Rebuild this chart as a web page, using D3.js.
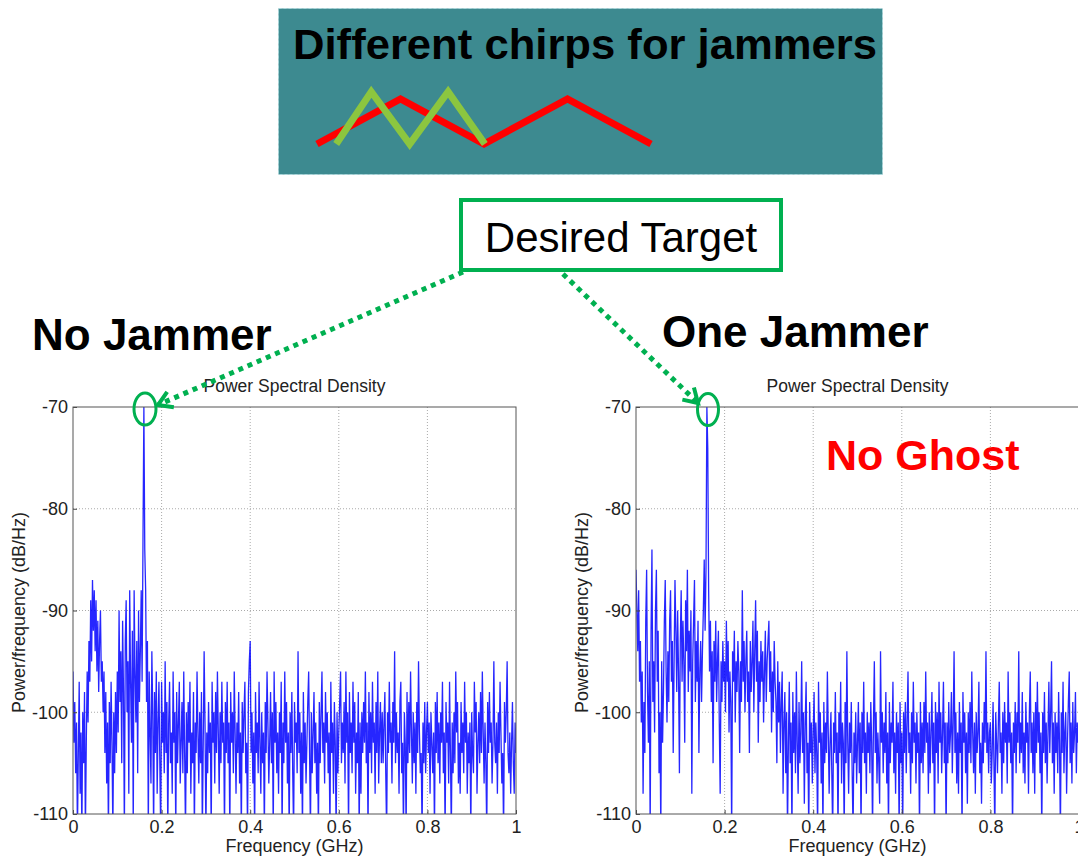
<!DOCTYPE html>
<html>
<head>
<meta charset="utf-8">
<script src="https://cdn.jsdelivr.net/npm/d3@7"></script>
<style>
  body { margin: 0; background: #fff; }
  svg { display: block; font-family: "Liberation Sans", Arial, sans-serif; }
</style>
</head>
<body>
<div id="chart"></div>
<script>
// Canvas
const width = 1078;
const height = 859;

// Axis ticks
const xTicks = [0, 0.2, 0.4, 0.6, 0.8, 1];
const xTickLabels = ["0", "0.2", "0.4", "0.6", "0.8", "1"];
const yTicks = [-110, -100, -90, -80, -70];
const yTickLabels = ["-110", "-100", "-90", "-80", "-70"];

// Frequency spacing of the PSD samples (GHz)
const STEP = 0.002;

// PSD, no jammer (dB/Hz), one value every 0.002 GHz from 0 to 1 (25 per row = 0.05 GHz)
const psdNoJammer = [
  -96, -103, -99, -106, -101, -112, -104, -97, -108, -102, -112, -100, -105, -98, -112, -103, -96, -101, -93, -97, -89, -95, -87, -92, -88,
  -94, -89, -96, -91, -98, -93, -90, -97, -95, -100, -96, -104, -98, -107, -101, -112, -99, -105, -97, -103, -112, -100, -106, -98, -104,
  -96, -102, -90, -99, -94, -105, -91, -98, -112, -93, -89, -100, -95, -108, -88, -97, -103, -92, -112, -88, -96, -101, -93, -106, -90,
  -99, -94, -88, -97, -83, -70, -84, -88, -99, -93, -112, -96, -102, -107, -94, -100, -112, -98, -104, -96, -108, -101, -97, -105, -112,
  -97, -103, -100, -106, -95, -104, -99, -112, -101, -97, -105, -102, -108, -96, -103, -100, -112, -98, -105, -101, -97, -107, -103, -99, -106,
  -96, -104, -112, -100, -106, -99, -103, -97, -108, -102, -105, -98, -112, -101, -104, -96, -102, -107, -100, -105, -98, -112, -103, -94, -101,
  -112, -102, -106, -99, -104, -101, -112, -97, -103, -100, -107, -98, -104, -96, -102, -108, -100, -105, -97, -103, -101, -112, -99, -104, -97,
  -105, -101, -112, -98, -103, -100, -106, -96, -102, -108, -101, -104, -98, -107, -102, -112, -99, -104, -100, -97, -106, -103, -112, -98, -95,
  -93, -104, -100, -107, -102, -112, -98, -104, -101, -106, -97, -103, -108, -100, -105, -102, -112, -99, -104, -96, -101, -107, -103, -98, -105,
  -100, -112, -96, -103, -99, -106, -102, -108, -100, -104, -97, -112, -101, -105, -96, -103, -99, -107, -102, -112, -100, -104, -98, -106, -112,
  -99, -103, -101, -106, -94, -104, -100, -108, -102, -112, -98, -105, -101, -107, -103, -99, -96, -104, -112, -100, -106, -102, -98, -105, -101,
  -108, -103, -112, -99, -105, -100, -96, -104, -101, -107, -98, -103, -100, -106, -102, -112, -97, -104, -101, -108, -99, -103, -112, -100, -106,
  -102, -99, -96, -105, -101, -104, -99, -107, -96, -103, -100, -112, -98, -104, -101, -106, -97, -103, -99, -108, -102, -105, -98, -112, -101,
  -108, -100, -104, -99, -103, -96, -105, -101, -112, -98, -104, -100, -106, -97, -103, -101, -108, -99, -104, -96, -107, -102, -99, -105, -100,
  -105, -101, -98, -106, -112, -100, -104, -97, -103, -101, -107, -99, -103, -94, -105, -100, -104, -102, -108, -99, -97, -106, -103, -112, -100,
  -103, -112, -98, -105, -99, -104, -96, -102, -107, -100, -105, -101, -108, -99, -104, -95, -102, -106, -104, -112, -101, -105, -99, -106, -102,
  -99, -104, -101, -108, -100, -103, -106, -102, -112, -99, -104, -98, -105, -101, -107, -100, -103, -97, -106, -102, -112, -99, -103, -101, -107,
  -97, -104, -112, -101, -106, -100, -105, -96, -102, -99, -107, -103, -108, -99, -104, -101, -106, -97, -103, -100, -108, -102, -105, -101, -112,
  -100, -104, -106, -97, -102, -99, -108, -103, -100, -105, -98, -104, -96, -102, -107, -101, -105, -112, -99, -104, -98, -103, -101, -107, -103,
  -95, -103, -105, -101, -108, -100, -104, -97, -102, -107, -104, -112, -99, -103, -100, -95, -104, -106, -102, -108, -103, -99, -105, -108, -101,
  -104
];

// PSD, one jammer (dB/Hz), same frequency grid
const psdOneJammer = [
  -86, -90, -94, -88, -97, -93, -101, -96, -108, -99, -104, -91, -86, -98, -103, -95, -112, -92, -84, -99, -95, -102, -90, -86, -97,
  -92, -106, -100, -112, -95, -103, -98, -91, -87, -96, -101, -94, -99, -91, -88, -97, -93, -104, -95, -87, -92, -98, -90, -96, -106,
  -93, -88, -97, -91, -95, -103, -89, -94, -86, -98, -92, -96, -90, -108, -95, -91, -87, -99, -93, -97, -91, -104, -96, -93, -99,
  -94, -90, -85, -92, -86, -70, -74, -88, -96, -91, -99, -94, -105, -93, -97, -91, -99, -95, -92, -101, -108, -95, -99, -93, -97,
  -95, -100, -91, -97, -93, -102, -96, -99, -112, -94, -97, -92, -101, -95, -98, -93, -96, -104, -95, -99, -88, -97, -93, -100, -95,
  -92, -99, -96, -104, -93, -98, -95, -91, -100, -94, -89, -97, -92, -103, -95, -99, -93, -97, -94, -101, -96, -92, -99, -95, -93,
  -91, -98, -94, -102, -96, -100, -93, -97, -99, -105, -95, -101, -97, -104, -99, -96, -108, -101, -98, -106, -100, -112, -103, -97, -105,
  -101, -112, -98, -104, -100, -106, -96, -103, -108, -99, -105, -102, -95, -104, -100, -109, -101, -97, -106, -103, -112, -99, -104, -101, -107,
  -102, -98, -106, -101, -104, -112, -97, -103, -100, -107, -102, -112, -99, -105, -101, -104, -96, -102, -108, -103, -100, -106, -112, -101, -104,
  -98, -105, -102, -112, -100, -104, -97, -107, -101, -103, -112, -99, -105, -94, -103, -108, -101, -104, -99, -106, -112, -102, -105, -100, -107,
  -103, -99, -106, -101, -112, -100, -104, -97, -105, -102, -108, -100, -104, -101, -106, -99, -103, -112, -101, -95, -104, -100, -107, -102, -105,
  -109, -94, -103, -100, -106, -101, -104, -98, -107, -102, -112, -99, -105, -101, -103, -97, -106, -102, -108, -100, -104, -101, -112, -99, -105,
  -102, -112, -100, -104, -99, -106, -101, -96, -104, -102, -108, -100, -105, -97, -103, -101, -107, -100, -104, -102, -112, -99, -105, -101, -106,
  -99, -104, -96, -103, -101, -108, -100, -106, -102, -98, -105, -101, -112, -99, -104, -100, -107, -97, -103, -100, -106, -102, -97, -105, -101,
  -112, -101, -105, -99, -104, -102, -98, -106, -101, -94, -104, -100, -107, -102, -108, -99, -104, -101, -112, -98, -103, -100, -106, -102, -109,
  -100, -104, -99, -105, -96, -102, -106, -101, -108, -100, -104, -102, -97, -106, -103, -109, -101, -105, -99, -103, -94, -104, -101, -106, -102,
  -101, -107, -104, -99, -105, -112, -100, -103, -106, -101, -97, -104, -102, -108, -100, -105, -99, -103, -101, -107, -96, -103, -100, -105, -102,
  -112, -101, -104, -99, -106, -100, -103, -94, -105, -101, -104, -98, -106, -102, -107, -99, -103, -101, -108, -100, -96, -104, -101, -106, -100,
  -108, -99, -104, -97, -103, -100, -106, -102, -112, -100, -104, -98, -105, -101, -107, -102, -97, -104, -100, -95, -105, -101, -108, -100, -104,
  -101, -106, -98, -103, -112, -100, -104, -97, -106, -102, -100, -108, -103, -99, -96, -105, -101, -107, -99, -104, -102, -98, -106, -101, -103,
  -100
];

// Chirp sketch: time steps and normalised frequency
const redChirpT = [0, 1, 2, 3, 4];
const redChirpF = [0, 1, 0, 1, 0];
const greenChirpT = [0.23, 0.65, 1.11, 1.57, 2.01];
const greenChirpF = [0, 1.16, 0, 1.16, 0];

// Colours
const GREEN = "#00b050";
const TEAL = "#3d8a90";

const svg = d3.select("#chart").append("svg")
    .attr("width", width)
    .attr("height", height);

// ---- Top banner ----
svg.append("rect")
    .attr("x", 278.5).attr("y", 8.5)
    .attr("width", 604).attr("height", 166)
    .attr("fill", TEAL)
    .attr("stroke", "#a9d6da")
    .attr("stroke-dasharray", "3,2");

svg.append("text")
    .attr("x", 293).attr("y", 59)
    .attr("font-size", 42).attr("font-weight", "bold")
    .attr("textLength", 584).attr("lengthAdjust", "spacingAndGlyphs")
    .attr("fill", "#000")
    .text("Different chirps for jammers");

const chirpX = d3.scaleLinear().domain([0, 4]).range([317, 651]);
const chirpY = d3.scaleLinear().domain([0, 1]).range([144, 99]);
const chirpLine = d3.line().x(d => chirpX(d[0])).y(d => chirpY(d[1]));

svg.append("path")
    .attr("d", chirpLine(d3.zip(redChirpT, redChirpF)))
    .attr("fill", "none").attr("stroke", "#ff0000").attr("stroke-width", 7);
svg.append("path")
    .attr("d", chirpLine(d3.zip(greenChirpT, greenChirpF)))
    .attr("fill", "none").attr("stroke", "#8cc63f").attr("stroke-width", 7);

// ---- Desired target label ----
svg.append("rect")
    .attr("x", 461).attr("y", 200)
    .attr("width", 320).attr("height", 70)
    .attr("fill", "#fff").attr("stroke", GREEN).attr("stroke-width", 4);
svg.append("text")
    .attr("x", 621).attr("y", 252)
    .attr("text-anchor", "middle")
    .attr("font-size", 42)
    .attr("fill", "#000")
    .text("Desired Target");

// ---- PSD plots ----
const plotW = 443;
const plotTop = 407;
const plotBottom = 814;

function drawPsd(x0, values, clipId) {
    const g = svg.append("g");
    const x = d3.scaleLinear().domain([0, 1]).range([x0, x0 + plotW]);
    const y = d3.scaleLinear().domain([-110, -70]).range([plotBottom, plotTop]);

    // grid
    g.selectAll(".vgrid").data(xTicks.slice(1, -1)).enter().append("line")
        .attr("x1", d => x(d)).attr("x2", d => x(d))
        .attr("y1", plotTop).attr("y2", plotBottom)
        .attr("stroke", "#aaa").attr("stroke-dasharray", "1,2");
    g.selectAll(".hgrid").data(yTicks.slice(1, -1)).enter().append("line")
        .attr("x1", x0).attr("x2", x0 + plotW)
        .attr("y1", d => y(d)).attr("y2", d => y(d))
        .attr("stroke", "#aaa").attr("stroke-dasharray", "1,2");

    // signal
    svg.append("clipPath").attr("id", clipId)
        .append("rect").attr("x", x0).attr("y", plotTop)
        .attr("width", plotW).attr("height", plotBottom - plotTop);
    const line = d3.line()
        .x((d, i) => x(i * STEP))
        .y(d => y(d));
    g.append("path")
        .attr("clip-path", `url(#${clipId})`)
        .attr("d", line(values))
        .attr("fill", "none")
        .attr("stroke", "#0000ff")
        .attr("stroke-width", 1.3)
        .attr("stroke-opacity", 0.85)
        .attr("stroke-linejoin", "bevel");

    // axes
    const xAxis = d3.axisBottom(x).tickValues(xTicks)
        .tickFormat((d, i) => xTickLabels[i])
        .tickSizeInner(-4).tickSizeOuter(0).tickPadding(6);
    const yAxis = d3.axisLeft(y).tickValues(yTicks)
        .tickFormat((d, i) => yTickLabels[i])
        .tickSizeInner(-4).tickSizeOuter(0).tickPadding(5);
    const ax = g.append("g").attr("transform", `translate(0,${plotBottom})`).call(xAxis);
    const ay = g.append("g").attr("transform", `translate(${x0},0)`).call(yAxis);
    [ax, ay].forEach(a => {
        a.select(".domain").remove();
        a.selectAll("line").attr("stroke", "#444");
        a.selectAll("text").attr("font-size", 18).attr("fill", "#222")
            .attr("font-family", "Liberation Sans, Arial, sans-serif");
    });

    // frame
    g.append("rect")
        .attr("x", x0).attr("y", plotTop)
        .attr("width", plotW).attr("height", plotBottom - plotTop)
        .attr("fill", "none").attr("stroke", "#555").attr("stroke-width", 1);

    g.append("text")
        .attr("x", x0 + plotW / 2).attr("y", 392)
        .attr("text-anchor", "middle").attr("font-size", 17.5).attr("fill", "#222")
        .text("Power Spectral Density");
    g.append("text")
        .attr("x", x0 + plotW / 2).attr("y", 852)
        .attr("text-anchor", "middle").attr("font-size", 18).attr("fill", "#222")
        .text("Frequency (GHz)");
    g.append("text")
        .attr("transform", `translate(${x0 - 48},${(plotTop + plotBottom) / 2 + 2}) rotate(-90)`)
        .attr("text-anchor", "middle").attr("font-size", 18).attr("fill", "#222")
        .text("Power/frequency (dB/Hz)");
}

drawPsd(73, psdNoJammer, "clipLeft");
drawPsd(636, psdOneJammer, "clipRight");

// ---- Plot headings ----
svg.append("text")
    .attr("x", 32).attr("y", 350)
    .attr("font-size", 44).attr("font-weight", "bold").attr("fill", "#000")
    .text("No Jammer");
svg.append("text")
    .attr("x", 662).attr("y", 347)
    .attr("font-size", 44).attr("font-weight", "bold").attr("fill", "#000")
    .text("One Jammer");
svg.append("text")
    .attr("x", 826).attr("y", 470)
    .attr("font-size", 43).attr("font-weight", "bold").attr("fill", "#ff0000")
    .text("No Ghost");

// ---- Peak markers ----
svg.append("ellipse")
    .attr("cx", 145).attr("cy", 409).attr("rx", 11).attr("ry", 16)
    .attr("fill", "none").attr("stroke", GREEN).attr("stroke-width", 3);
svg.append("ellipse")
    .attr("cx", 708).attr("cy", 409.5).attr("rx", 10.5).attr("ry", 16)
    .attr("fill", "none").attr("stroke", GREEN).attr("stroke-width", 3);

// ---- Dotted arrows ----
function dottedArrow(from, to) {
    svg.append("line")
        .attr("x1", from[0]).attr("y1", from[1])
        .attr("x2", to[0]).attr("y2", to[1])
        .attr("stroke", GREEN).attr("stroke-width", 5)
        .attr("stroke-dasharray", "5,5");
    const ang = Math.atan2(from[1] - to[1], from[0] - to[0]);
    const len = 16;
    const spread = 0.55;
    const p1 = [to[0] + len * Math.cos(ang + spread), to[1] + len * Math.sin(ang + spread)];
    const p2 = [to[0] + len * Math.cos(ang - spread), to[1] + len * Math.sin(ang - spread)];
    svg.append("path")
        .attr("d", `M${p1[0]},${p1[1]} L${to[0]},${to[1]} L${p2[0]},${p2[1]}`)
        .attr("fill", "none").attr("stroke", GREEN).attr("stroke-width", 4)
        .attr("stroke-linejoin", "miter");
}
dottedArrow([463, 272], [158, 405]);
dottedArrow([563, 274], [698, 403]);
</script>
</body>
</html>
